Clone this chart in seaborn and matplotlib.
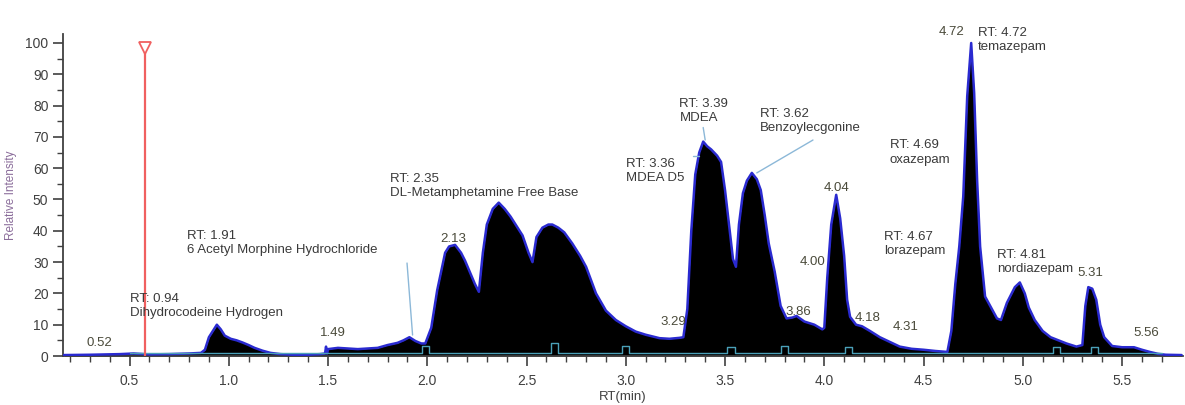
import numpy as np
import pandas as pd
import matplotlib
matplotlib.use("Agg")
import matplotlib.pyplot as plt
import seaborn as sns

# ---- chromatogram trace ----
rt = [0.17, 0.30, 0.45, 0.52, 0.60, 0.70, 0.80, 0.86, 0.88, 0.90, 0.92, 0.94, 0.96, 0.98,
      1.01, 1.04, 1.07, 1.10, 1.13, 1.17, 1.21, 1.26, 1.32, 1.40, 1.46, 1.485, 1.49, 1.495,
      1.50, 1.55, 1.60, 1.65, 1.70, 1.75, 1.80, 1.85, 1.88, 1.91, 1.94, 1.97, 1.99,
      2.02, 2.05, 2.09, 2.11, 2.14, 2.17, 2.19, 2.22, 2.24, 2.26, 2.28, 2.30, 2.33, 2.36,
      2.39, 2.42, 2.45, 2.48, 2.51, 2.53, 2.55, 2.58, 2.61, 2.63, 2.66, 2.69, 2.73, 2.77,
      2.80, 2.85, 2.90, 2.95, 3.00, 3.05, 3.10, 3.17, 3.22, 3.27, 3.29, 3.31, 3.33, 3.35,
      3.37, 3.39, 3.41, 3.43, 3.46, 3.48, 3.50, 3.52, 3.54, 3.555, 3.57, 3.59, 3.61, 3.635,
      3.66, 3.68, 3.70, 3.72, 3.75, 3.78, 3.81, 3.84, 3.86, 3.90, 3.95, 3.99, 4.00, 4.015,
      4.035, 4.06, 4.08, 4.10, 4.115, 4.13, 4.16, 4.19, 4.23, 4.28, 4.33, 4.38, 4.44, 4.50,
      4.56, 4.62, 4.64, 4.66, 4.68, 4.70, 4.72, 4.74, 4.755, 4.77, 4.785, 4.81, 4.84, 4.87,
      4.89, 4.92, 4.96, 4.985, 5.01, 5.03, 5.06, 5.10, 5.14, 5.18, 5.22, 5.27, 5.30, 5.315,
      5.33, 5.35, 5.37, 5.39, 5.41, 5.45, 5.50, 5.56, 5.60, 5.64, 5.68, 5.72, 5.80]
intensity = [0.3, 0.4, 0.6, 0.8, 0.5, 0.6, 0.8, 1.0, 2.0, 6.0, 8.0, 10.0, 8.5, 6.5,
             5.5, 5.0, 4.3, 3.5, 2.6, 1.7, 1.0, 0.6, 0.4, 0.4, 0.6, 0.8, 3.0, 0.8,
             2.2, 2.6, 2.4, 2.2, 2.4, 2.6, 3.5, 4.2, 5.0, 6.0, 4.8, 4.0, 4.0,
             9.0, 21.0, 33.0, 35.0, 35.5, 33.0, 30.5, 26.0, 23.0, 20.5, 33.0, 42.0, 47.0, 49.0,
             47.0, 44.5, 41.5, 38.5, 33.0, 30.0, 38.0, 41.0, 42.0, 42.0, 41.0, 39.5, 36.0, 32.0,
             28.5, 20.0, 14.5, 11.5, 9.5, 7.8, 6.8, 5.7, 5.5, 5.8, 6.0, 15.0, 40.0, 58.0,
             65.0, 68.5, 67.0, 66.0, 64.0, 62.0, 53.0, 42.0, 31.0, 28.5, 42.0, 52.0, 56.0, 58.5,
             56.5, 53.0, 45.0, 36.0, 27.0, 16.0, 12.0, 12.3, 12.8, 11.0, 10.0, 8.5, 9.0, 25.0,
             42.0, 51.5, 44.0, 32.0, 18.0, 12.5, 10.0, 9.5, 8.0, 6.0, 4.5, 3.0, 2.3, 2.0,
             1.6, 1.3, 8.0, 23.0, 35.0, 51.0, 83.0, 100.0, 84.0, 56.0, 35.0, 19.0, 15.5, 12.0,
             11.5, 17.0, 22.0, 23.5, 20.0, 15.5, 11.5, 8.0, 6.0, 5.0, 4.0, 3.0, 3.5, 16.0,
             22.0, 21.5, 18.0, 10.0, 6.0, 3.2, 2.8, 2.8, 2.0, 1.3, 0.7, 0.4, 0.3]

# baseline (integration) trace boxes
box_rt = [1.99, 2.64, 3.00, 3.53, 3.80, 4.12, 5.17, 5.36]
box_height = [2.5, 3.5, 2.5, 2.0, 2.5, 2.0, 2.0, 2.0]
baseline_level = 0.8

# marker line
marker_rt = 0.578
marker_top = 98.5

# peak labels
label_text = ["0.52", "RT: 0.94\nDihydrocodeine Hydrogen", "1.49",
              "RT: 1.91\n6 Acetyl Morphine Hydrochloride", "2.13",
              "RT: 2.35\nDL-Metamphetamine Free Base", "3.29", "RT: 3.36\nMDEA D5",
              "RT: 3.39\nMDEA", "RT: 3.62\nBenzoylecgonine", "3.86", "4.00", "4.04",
              "4.18", "4.31", "RT: 4.67\nlorazepam", "RT: 4.69\noxazepam", "4.72",
              "RT: 4.72\ntemazepam", "RT: 4.81\nnordiazepam", "5.31", "5.56"]
label_rt = [0.35, 0.50, 1.525, 0.79, 2.13, 1.81, 3.24, 3.00, 3.27, 3.676, 3.87,
            3.94, 4.06, 4.22, 4.41, 4.30, 4.33, 4.64, 4.775, 4.87, 5.34, 5.62]
label_y = [4.2, 16.0, 7.4, 36.0, 37.3, 54.2, 11.0, 59.0, 78.3, 75.0, 14.0,
           30.0, 53.8, 12.0, 9.3, 35.7, 65.0, 103.5, 101.0, 30.0, 26.5, 7.4]
label_ha = ["center", "left", "center", "left", "center", "left", "center", "left",
            "left", "left", "center", "center", "center", "center", "center", "left",
            "left", "center", "left", "left", "center", "center"]

# connector lines
conn_rt0 = [1.898, 3.943, 3.34, 3.39]
conn_y0 = [29.7, 69.0, 64.0, 73.0]
conn_rt1 = [1.926, 3.66, 3.37, 3.40]
conn_y1 = [6.7, 58.5, 64.0, 69.0]

df = pd.DataFrame({"RT": rt, "I": intensity})

sns.set_style("ticks")
plt.rcParams["font.family"] = ["Liberation Sans", "DejaVu Sans"]

fig = plt.figure(figsize=(11.85, 4.05), dpi=100)
ax = fig.add_axes([63 / 1185, 49 / 405, (1183 - 63) / 1185, (356 - 33.6) / 405])

# baseline trace
bx = [0.5]
by = [baseline_level]
for c, h in zip(box_rt, box_height):
    bx += [c - 0.018, c - 0.018, c + 0.018, c + 0.018]
    by += [baseline_level, baseline_level + h, baseline_level + h, baseline_level]
bx.append(5.70)
by.append(baseline_level)
ax.plot(bx, by, color="#4aa0b8", lw=1.0, zorder=4)

ax.fill_between(df["RT"], 0, df["I"], color="black", lw=0, zorder=2)
sns.lineplot(data=df, x="RT", y="I", ax=ax, color="#2a2ad0", lw=1.8, zorder=3,
             estimator=None, sort=False)

ax.vlines(marker_rt, 0, marker_top, color="#f06060", lw=1.6, zorder=5)
ax.plot([marker_rt], [marker_top], marker="v", ms=8, mfc="white", mec="#f06060",
        mew=1.3, zorder=6, clip_on=False)

for t, x, y, ha in zip(label_text, label_rt, label_y, label_ha):
    col = "#3a3a3a" if t.startswith("RT") else "#4a4a3a"
    ax.text(x, y, t, ha=ha, va="center", fontsize=9.5, color=col,
            linespacing=1.25, zorder=7, clip_on=False)

for x0, y0, x1, y1 in zip(conn_rt0, conn_y0, conn_rt1, conn_y1):
    ax.plot([x0, x1], [y0, y1], color="#8cb8d8", lw=1.0, zorder=6)

ax.set_xlim(0.165, 5.807)
ax.set_ylim(0, 103)
ax.set_xticks(np.arange(0.5, 5.6, 0.5))
ax.set_xticks(np.arange(0.2, 5.75, 0.1), minor=True)
ax.set_yticks(np.arange(0, 101, 10))
ax.set_yticks(np.arange(0, 101, 5), minor=True)
ax.set_xticklabels([f"{v:.1f}" for v in np.arange(0.5, 5.6, 0.5)])
ax.tick_params(axis="both", which="major", length=7, width=1.2, color="#404040",
               labelsize=10, labelcolor="#404040")
ax.tick_params(axis="both", which="minor", length=4, width=1.0, color="#404040")
ax.tick_params(axis="x", which="major", pad=6)
for s in ["top", "right"]:
    ax.spines[s].set_visible(False)
for s in ["left", "bottom"]:
    ax.spines[s].set_color("#404040")
    ax.spines[s].set_linewidth(1.3)

ax.set_xlabel("RT(min)", fontsize=9.5, color="#404040", labelpad=2)
ax.set_ylabel("Relative Intensity", fontsize=8.5, color="#8a6c9a", labelpad=6)

fig.savefig("out.png", dpi=100)
